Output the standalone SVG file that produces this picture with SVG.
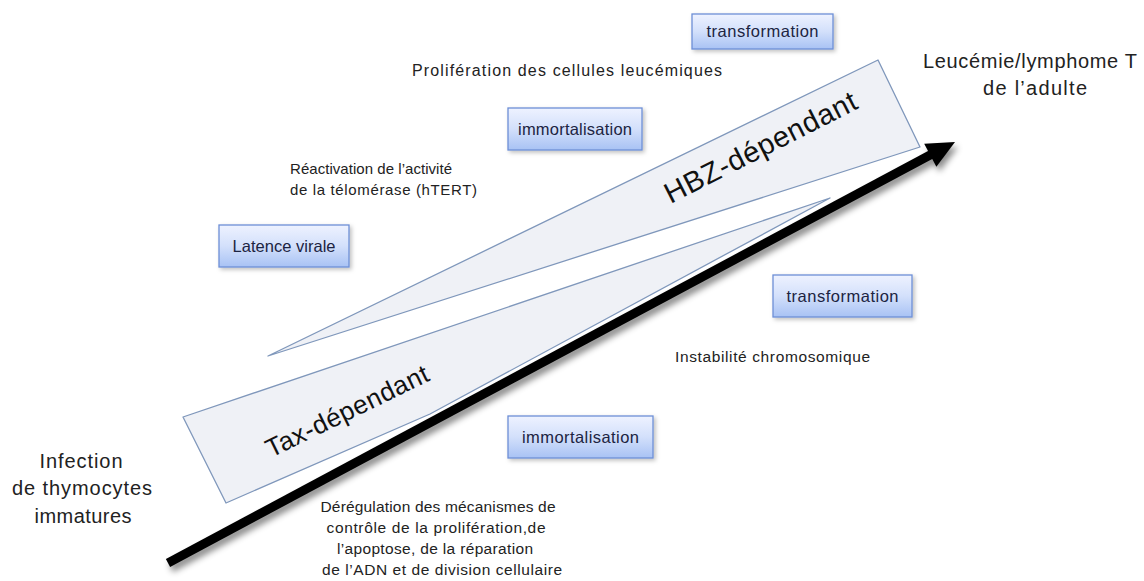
<svg xmlns="http://www.w3.org/2000/svg" width="1144" height="581" viewBox="0 0 1144 581">
<defs>
  <linearGradient id="boxGrad" x1="0" y1="0" x2="0" y2="1">
    <stop offset="0" stop-color="#eef2ff"/>
    <stop offset="0.5" stop-color="#d3e0fb"/>
    <stop offset="1" stop-color="#a8c2f4"/>
  </linearGradient>
  <filter id="shadow" x="-20%" y="-30%" width="140%" height="160%">
    <feDropShadow dx="2" dy="2" stdDeviation="2" flood-color="#000" flood-opacity="0.25"/>
  </filter>
  <filter id="arrowShadow" x="-10%" y="-20%" width="120%" height="140%">
    <feDropShadow dx="3" dy="5" stdDeviation="3" flood-color="#000" flood-opacity="0.45"/>
  </filter>
</defs>
<style>
  .box { fill: url(#boxGrad); stroke: #6d8fd6; stroke-width: 1.3; filter: url(#shadow); }
  .boxtxt { font-family: "Liberation Sans", Arial, sans-serif; font-size: 16.5px; fill: #1c2442; text-anchor: middle; }
  .txt { font-family: "Liberation Sans", Arial, sans-serif; fill: #222; }
  .wedge { fill: #eff1f6; stroke: #7f97bb; stroke-width: 1.3; stroke-linejoin: round; }
  .big { font-family: "Liberation Sans", Arial, sans-serif; fill: #111; text-anchor: middle; }
</style>
<rect width="1144" height="581" fill="#fff"/>

<g id="connectors">
  <g id="tax-wedge">
    <polygon class="wedge" points="183,417 830,198 430,414 226,503"/>
    <text class="big" font-size="26" textLength="178" lengthAdjust="spacing" transform="translate(351,419) rotate(-26)">Tax-dépendant</text>
  </g>
  <g id="hbz-wedge">
    <polygon class="wedge" points="268,356 878,60 920,147"/>
    <text class="big" font-size="29" textLength="212" lengthAdjust="spacing" transform="translate(765,156) rotate(-27)">HBZ-dépendant</text>
  </g>
  <g id="main-arrow" filter="url(#arrowShadow)">
    <line x1="168" y1="563" x2="932" y2="154" stroke="#000" stroke-width="9"/>
    <polygon points="955,142 936.4,166.7 924.2,143.7" fill="#000"/>
  </g>
</g>

<g id="box-transformation-top">
  <rect class="box" x="692" y="14" width="141" height="35"/>
  <text class="boxtxt" x="762.5" y="37" textLength="112" lengthAdjust="spacing">transformation</text>
</g>
<g id="box-immortalisation-top">
  <rect class="box" x="508" y="108" width="134" height="42"/>
  <text class="boxtxt" x="575" y="135" textLength="114" lengthAdjust="spacing">immortalisation</text>
</g>
<g id="box-latence">
  <rect class="box" x="219" y="225" width="130" height="42"/>
  <text class="boxtxt" x="284" y="252" textLength="103" lengthAdjust="spacing">Latence virale</text>
</g>
<g id="box-transformation-right">
  <rect class="box" x="773" y="275" width="139" height="42"/>
  <text class="boxtxt" x="842.5" y="302" textLength="112" lengthAdjust="spacing">transformation</text>
</g>
<g id="box-immortalisation-bottom">
  <rect class="box" x="508" y="416" width="145" height="42"/>
  <text class="boxtxt" x="580.5" y="443" textLength="117" lengthAdjust="spacing">immortalisation</text>
</g>

<g id="label-proliferation">
  <text class="txt" x="412" y="76" font-size="16" textLength="310" lengthAdjust="spacing">Prolifération des cellules leucémiques</text>
</g>
<g id="label-reactivation">
  <text class="txt" x="290" y="174" font-size="15" textLength="162" lengthAdjust="spacing">Réactivation de l’activité</text>
  <text class="txt" x="290" y="195" font-size="15" textLength="187" lengthAdjust="spacing">de la télomérase (hTERT)</text>
</g>
<g id="label-instabilite">
  <text class="txt" x="675" y="362" font-size="15.5" textLength="195" lengthAdjust="spacing">Instabilité chromosomique</text>
</g>
<g id="label-leucemie">
  <text class="txt" x="1030" y="68" font-size="20" text-anchor="middle" textLength="214" lengthAdjust="spacing">Leucémie/lymphome T</text>
  <text class="txt" x="1035" y="95" font-size="20" text-anchor="middle" textLength="104" lengthAdjust="spacing">de l’adulte</text>
</g>
<g id="label-infection">
  <text class="txt" x="81" y="468" font-size="20" text-anchor="middle" textLength="83" lengthAdjust="spacing">Infection</text>
  <text class="txt" x="82" y="495" font-size="20" text-anchor="middle" textLength="140" lengthAdjust="spacing">de thymocytes</text>
  <text class="txt" x="83" y="523" font-size="20" text-anchor="middle" textLength="97" lengthAdjust="spacing">immatures</text>
</g>
<g id="label-deregulation">
  <text class="txt" x="438" y="512" font-size="15.5" text-anchor="middle" textLength="235" lengthAdjust="spacing">Dérégulation des mécanismes de</text>
  <text class="txt" x="436" y="533" font-size="15.5" text-anchor="middle" textLength="219" lengthAdjust="spacing">contrôle de la prolifération,de</text>
  <text class="txt" x="435" y="554" font-size="15.5" text-anchor="middle" textLength="196" lengthAdjust="spacing">l’apoptose, de la réparation</text>
  <text class="txt" x="442" y="575" font-size="15.5" text-anchor="middle" textLength="240" lengthAdjust="spacing">de l’ADN et de division cellulaire</text>
</g>
</svg>
